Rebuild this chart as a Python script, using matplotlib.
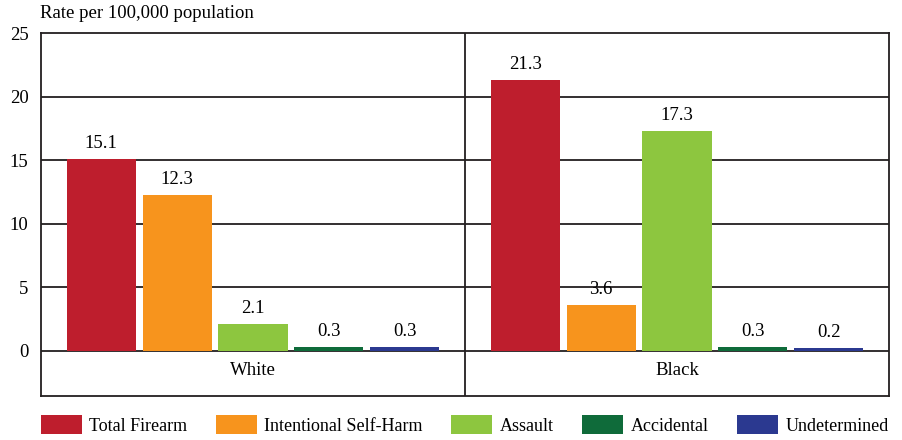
import matplotlib.pyplot as plt
import numpy as np
from matplotlib.patches import Patch

# data
groups = ['White', 'Black']
series = ['Total Firearm', 'Intentional Self-Harm', 'Assault', 'Accidental', 'Undetermined']
white = [15.1, 12.3, 2.1, 0.3, 0.3]
black = [21.3, 3.6, 17.3, 0.3, 0.2]
colors = ['#BE1E2D', '#F7941D', '#8DC63F', '#0F6B3A', '#2B3990']
yticks = [0, 5, 10, 15, 20, 25]

plt.rcParams['font.family'] = 'Liberation Serif'
fs = 13.5

fig = plt.figure(figsize=(9.02, 4.4), dpi=100)
ax = fig.add_axes([41 / 902, 44 / 440, 848 / 902, 363 / 440])

values = np.array([white, black])
bar_w = 0.163
step = 0.179
x = np.arange(len(groups))
for j, name in enumerate(series):
    pos = x + (j - 2) * step
    ax.bar(pos, values[:, j], width=bar_w, color=colors[j], zorder=3)
    for p, v in zip(pos, values[:, j]):
        ax.text(p, v + 0.55, f'{v:.1f}', ha='center', va='bottom', fontsize=fs, zorder=4)

ax.set_xlim(-0.5, 1.5)
ax.set_ylim(-3.54, 25)
ax.set_yticks(yticks)
ax.set_yticklabels([str(t) for t in yticks], fontsize=fs)
ax.tick_params(axis='y', length=0, pad=9)
ax.set_xticks([])
for t in yticks[1:-1] + [0]:
    ax.axhline(t, color='#231F20', lw=1.3, zorder=2)
ax.axvline(0.5, color='#231F20', lw=1.3, zorder=2)
for s in ax.spines.values():
    s.set_color('#231F20')
    s.set_linewidth(1.3)

for i, g in enumerate(groups):
    ax.text(i, -1.5, g, ha='center', va='center', fontsize=fs)

fig.text(40 / 902, 1 - 14 / 440, 'Rate per 100,000 population', ha='left', va='center', fontsize=fs)

handles = [Patch(facecolor=c, edgecolor='none') for c in colors]
fig.legend(handles, series, loc='center left', bbox_to_anchor=(32 / 902, 1 - 425 / 440),
           ncol=5, frameon=False, handlelength=2.27, handleheight=1.2,
           handletextpad=0.39, columnspacing=1.6, fontsize=13, borderpad=0)

fig.savefig('out.png', dpi=100)
